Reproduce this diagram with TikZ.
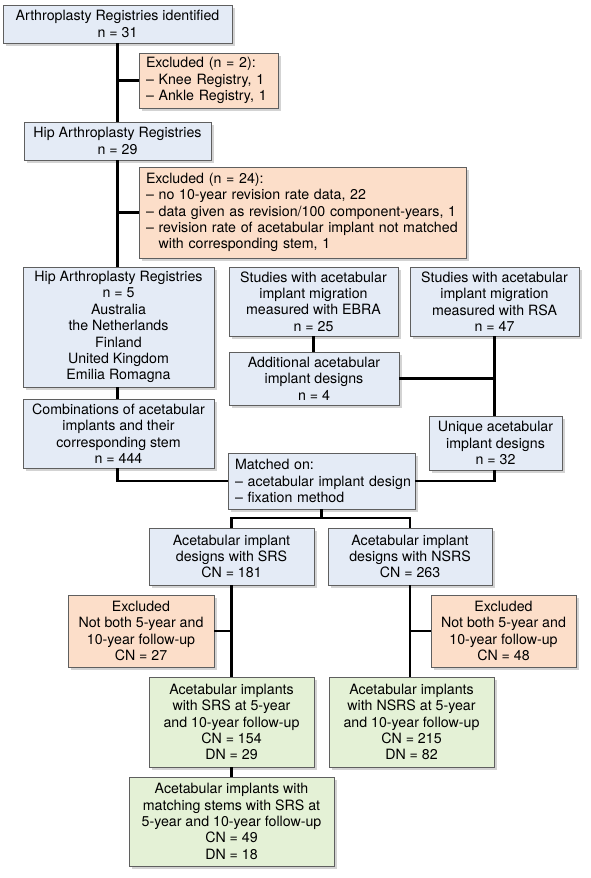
\documentclass[tikz,border=0pt]{standalone}
\usepackage{fontspec}
\setmainfont{TeX Gyre Heros}
\usetikzlibrary{shadows,positioning}
\definecolor{regblue}{RGB}{228,235,246}
\definecolor{exclorange}{RGB}{252,222,201}
\definecolor{keepgreen}{RGB}{228,241,214}
\definecolor{rimgray}{RGB}{95,95,95}
\tikzstyle{box} = [draw=rimgray, line width=0.7pt, inner sep=0pt, align=center,
  drop shadow={shadow xshift=2.5pt, shadow yshift=-3pt, opacity=0.35},
  font=\fontsize{14.2}{16.4}\selectfont]
\tikzstyle{regbox} = [box, fill=regblue]
\tikzstyle{exclbox} = [box, fill=exclorange]
\tikzstyle{keepbox} = [box, fill=keepgreen]
\tikzstyle{listbox} = [align=left, inner xsep=7pt]
\tikzstyle{link} = [draw, line width=2.3pt]

\begin{document}
\begin{tikzpicture}[x=1pt, y=-1pt]
    \useasboundingbox (0,0) rectangle (591,878);
    % registries
    \node[regbox, minimum width=229pt, minimum height=38pt] (reg) at (117.5,24)
      {Arthroplasty Registries identified\\n = 31};
    \node[exclbox, listbox, text width=125pt, minimum height=55pt] (excl1) at (208.5,80.5)
      {Excluded (n = 2):\\– Knee Registry, 1\\– Ankle Registry, 1};
    \node[regbox, minimum width=187pt, minimum height=38pt] (hip) at (117.5,141)
      {Hip Arthroplasty Registries\\n = 29};
    \node[exclbox, listbox, text width=313pt, minimum height=91pt] (excl2) at (302.5,212.5)
      {Excluded (n = 24):\\– no 10-year revision rate data, 22\\
       \mbox{– data given as revision/100 component-years, 1}\\
       \mbox{– revision rate of acetabular implant not matched}\\
       \hphantom{– }with corresponding stem, 1};
    \node[regbox, minimum width=191pt, minimum height=120pt] (hip5) at (118.5,327)
      {Hip Arthroplasty Registries\\n = 5\\Australia\\the Netherlands\\Finland\\United Kingdom\\Emilia Romagna};
    \node[regbox, minimum width=191pt, minimum height=69pt] (comb) at (118.5,433.5)
      {Combinations of acetabular\\implants and their\\corresponding stem\\n = 444};
    % migration studies
    \node[regbox, minimum width=169pt, minimum height=69pt] (ebra) at (313.5,301.5)
      {Studies with acetabular\\implant migration\\measured with EBRA\\n = 25};
    \node[regbox, minimum width=169pt, minimum height=69pt] (rsa) at (494.5,301.5)
      {Studies with acetabular\\implant migration\\measured with RSA\\n = 47};
    \node[regbox, minimum width=170pt, minimum height=53pt] (extra) at (314,378.5)
      {Additional acetabular\\implant designs\\n = 4};
    \node[regbox, minimum width=133pt, minimum height=54pt] (uniq) at (495.5,443)
      {Unique acetabular\\implant designs\\n = 32};
    \node[regbox, listbox, text width=173pt, minimum height=56pt] (match) at (321.5,481)
      {Matched on:\\\mbox{– acetabular implant design}\\– fixation method};
    % SRS / NSRS
    \node[regbox, minimum width=165pt, minimum height=57pt] (srs) at (231.5,556.5)
      {Acetabular implant\\designs with SRS\\CN = 181};
    \node[regbox, minimum width=164pt, minimum height=57pt] (nsrs) at (410,556.5)
      {Acetabular implant\\designs with NSRS\\CN = 263};
    \node[exclbox, minimum width=146pt, minimum height=72pt] (exsrs) at (141,631)
      {Excluded\\Not both 5-year and\\10-year follow-up\\CN = 27};
    \node[exclbox, minimum width=145pt, minimum height=72pt] (exnsrs) at (503.5,631)
      {Excluded\\Not both 5-year and\\10-year follow-up\\CN = 48};
    \node[keepbox, minimum width=165pt, minimum height=90pt] (keepsrs) at (231.5,722)
      {Acetabular implants\\with SRS at 5-year\\and 10-year follow-up\\CN = 154\\DN = 29};
    \node[keepbox, minimum width=165pt, minimum height=90pt] (keepnsrs) at (411.5,722)
      {Acetabular implants\\with NSRS at 5-year\\and 10-year follow-up\\CN = 215\\DN = 82};
    \node[keepbox, minimum width=205pt, minimum height=89pt] (stems) at (231.5,821.5)
      {Acetabular implants with\\matching stems with SRS at\\5-year and 10-year follow-up\\CN = 49\\DN = 18};
    \coordinate (split) at (321.5,518);

    \path[link]
      (reg.south -| hip.north) -- (hip.north)
      (excl1.west) -- (excl1.west -| reg.south)
      (hip.south) -- (hip.south |- hip5.north)
      (excl2.west) -- (excl2.west -| hip.south)
      (hip.south |- hip5.south) -- (hip.south |- comb.north)
      (hip.south |- comb.south) |- (match.west)
      (ebra.south) -- (extra.north -| ebra.south)
      (rsa.south) -- (uniq.north -| rsa.south)
      (extra.east) -- (extra.east -| rsa.south)
      (uniq.south -| rsa.south) |- (match.east)
      (match.south) -- (split)
      (srs.north) |- (split) -| (nsrs.north)
      (srs.south) -- (keepsrs.north)
      (exsrs.east) -- (exsrs.east -| srs.south)
      (nsrs.south) -- (keepnsrs.north -| nsrs.south)
      (exnsrs.west) -- (exnsrs.west -| nsrs.south)
      (keepsrs.south) -- (stems.north)
    ;
\end{tikzpicture}
\end{document}
